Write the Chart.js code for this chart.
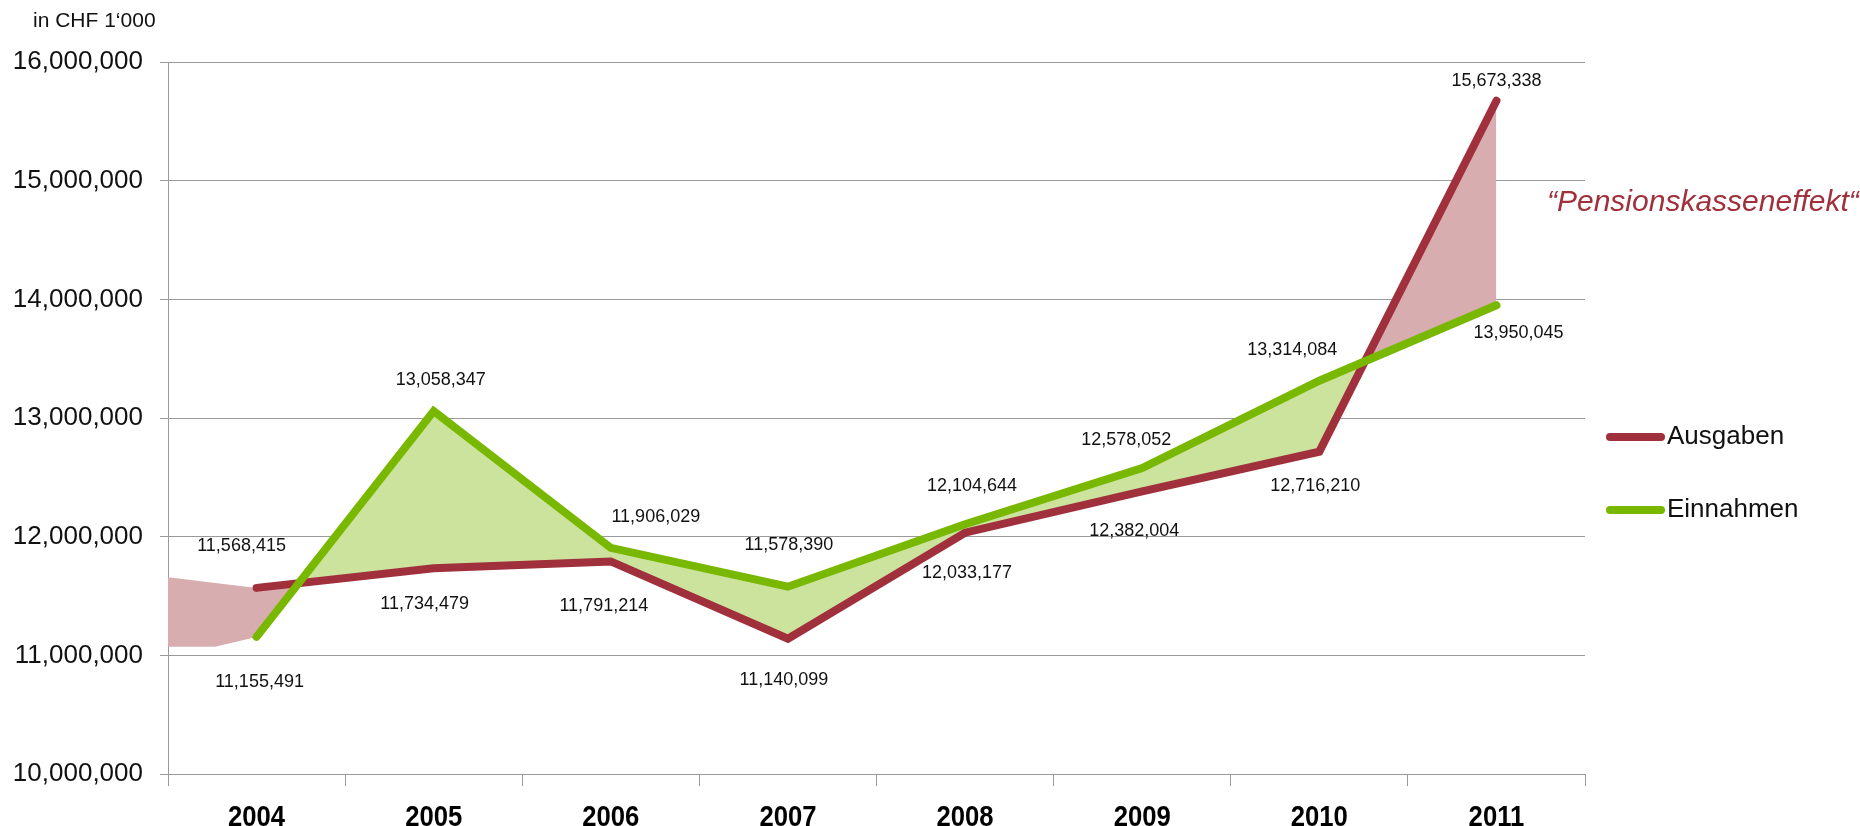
<!DOCTYPE html>
<html>
<head>
<meta charset="utf-8">
<script src="https://cdn.jsdelivr.net/npm/chart.js@4/dist/chart.umd.min.js"></script>
<style>
  html, body { margin: 0; padding: 0; background: #ffffff; }
  canvas { display: block; }
</style>
</head>
<body>
<canvas id="chart" width="1860" height="826"></canvas>
<script>
// Jahre und Werte (in CHF 1'000)
const years = ['2004', '2005', '2006', '2007', '2008', '2009', '2010', '2011'];
const ausgaben  = [11568415, 11734479, 11791214, 11140099, 12033177, 12382004, 12716210, 15673338];
const einnahmen = [11155491, 13058347, 11906029, 11578390, 12104644, 12578052, 13314084, 13950045];

// Schattierte Fläche links vom ersten Jahr (x in Kategorie-Einheiten)
const leftShadeUpperX = [-0.5, 0, 0.01];
const leftShadeUpperY = [11657600, 11568415, 11568415];
const leftShadeLowerX = [-0.5, -0.235, 0, 0.01];
const leftShadeLowerY = [11072700, 11072700, 11155491, 11155491];

// Versatz der Wertbeschriftungen gegenüber dem Punkt [dx, dy] in Pixel
const ausgabenLabelOffsets  = [[-15, -42], [-9, 36], [-7, 45], [-4, 41], [2, 40], [-8, 40], [-4, 34], [0, -20]];
const einnahmenLabelOffsets = [[3, 45], [7, -31], [45, -31], [1, -42], [7, -38], [-16, -28], [-27, -31], [22, 28]];

const RED = '#A0303C';
const GREEN = '#78B800';
const GREEN_FILL = '#CCE39E';
const RED_FILL = '#D8ADB0';
const FONT = '"Liberation Sans", Arial, sans-serif';
const fmt = v => v.toLocaleString('en-US');

const toPoints = (xs, ys) => xs.map((x, i) => ({ x: x, y: ys[i] }));

const overlay = {
  id: 'overlay',
  afterDatasetsDraw(chart) {
    const ctx = chart.ctx;
    ctx.save();
    ctx.font = '18px ' + FONT;
    ctx.fillStyle = '#111111';
    ctx.textAlign = 'center';
    ctx.textBaseline = 'middle';
    [[0, ausgabenLabelOffsets], [1, einnahmenLabelOffsets]].forEach(([di, offs]) => {
      const meta = chart.getDatasetMeta(di);
      const values = chart.data.datasets[di].data;
      meta.data.forEach((pt, j) => {
        ctx.fillText(fmt(values[j]), pt.x + offs[j][0], pt.y + offs[j][1]);
      });
    });
    ctx.restore();
  },
  afterDraw(chart) {
    const ctx = chart.ctx;
    ctx.save();

    // Jahresbeschriftung der x-Achse, schmal gesetzt
    const xScale = chart.scales.x;
    ctx.font = 'bold 30px ' + FONT;
    ctx.fillStyle = '#000000';
    ctx.textAlign = 'center';
    ctx.textBaseline = 'alphabetic';
    chart.data.labels.forEach((lab, i) => {
      ctx.save();
      ctx.translate(xScale.getPixelForTick(i), 826);
      ctx.scale(0.855, 1);
      ctx.fillText(lab, 0, 0);
      ctx.restore();
    });

    // Einheit
    ctx.font = '21px ' + FONT;
    ctx.fillStyle = '#111111';
    ctx.textAlign = 'left';
    ctx.textBaseline = 'middle';
    ctx.fillText('in CHF 1\u2018000', 33, 21);

    // Hinweis
    ctx.font = 'italic 30px ' + FONT;
    ctx.fillStyle = RED;
    ctx.fillText('\u201CPensionskasseneffekt\u201C', 1547, 203);

    // Legende
    const legendRows = [437, 510];
    [0, 1].forEach((di, k) => {
      const ds = chart.data.datasets[di];
      const y = legendRows[k];
      ctx.strokeStyle = ds.borderColor;
      ctx.lineWidth = 8;
      ctx.lineCap = 'round';
      ctx.beginPath();
      ctx.moveTo(1610, y);
      ctx.lineTo(1661, y);
      ctx.stroke();
      ctx.font = '26px ' + FONT;
      ctx.fillStyle = '#111111';
      ctx.fillText(ds.label, 1667, y);
    });
    ctx.restore();
  }
};

new Chart(document.getElementById('chart'), {
  type: 'line',
  data: {
    labels: years,
    datasets: [
      {
        label: 'Ausgaben',
        data: ausgaben,
        borderColor: RED,
        backgroundColor: RED,
        borderWidth: 8,
        borderJoinStyle: 'miter',
        borderCapStyle: 'round',
        pointRadius: 0,
        tension: 0,
        fill: false,
        order: 1
      },
      {
        label: 'Einnahmen',
        data: einnahmen,
        borderColor: GREEN,
        backgroundColor: GREEN,
        borderWidth: 8,
        borderJoinStyle: 'miter',
        borderCapStyle: 'round',
        pointRadius: 0,
        tension: 0,
        fill: { target: 0, above: GREEN_FILL, below: RED_FILL },
        order: 0
      },
      {
        label: 'shadeUpper',
        data: toPoints(leftShadeUpperX, leftShadeUpperY),
        xAxisID: 'x2',
        borderColor: 'rgba(0,0,0,0)',
        borderWidth: 1,
        pointRadius: 0,
        tension: 0,
        fill: { target: 3, above: RED_FILL, below: RED_FILL },
        order: 2
      },
      {
        label: 'shadeLower',
        data: toPoints(leftShadeLowerX, leftShadeLowerY),
        xAxisID: 'x2',
        borderColor: 'rgba(0,0,0,0)',
        borderWidth: 1,
        pointRadius: 0,
        tension: 0,
        fill: false,
        order: 3
      }
    ]
  },
  options: {
    responsive: false,
    animation: false,
    events: [],
    layout: { padding: { top: 62, right: 275, left: 0, bottom: 0 } },
    plugins: {
      legend: { display: false },
      tooltip: { enabled: false },
      filler: { propagate: false, drawTime: 'beforeDatasetsDraw' }
    },
    scales: {
      x: {
        type: 'category',
        offset: true,
        grid: { offset: true, drawOnChartArea: false, drawTicks: true, tickLength: 12, color: '#9a9a9a', lineWidth: 1 },
        border: { display: true, color: '#9a9a9a', width: 1 },
        ticks: { display: false, autoSkip: false, maxRotation: 0 },
        afterFit: s => { s.height = 52; }
      },
      x2: {
        type: 'linear',
        display: false,
        min: -0.5,
        max: 7.5
      },
      y: {
        min: 10000000,
        max: 16000000,
        grid: { color: '#9a9a9a', lineWidth: 1, drawTicks: true, tickLength: 8 },
        border: { display: true, color: '#9a9a9a', width: 1 },
        ticks: {
          stepSize: 1000000,
          padding: 17,
          color: '#111111',
          font: { family: FONT, size: 26 },
          callback: v => fmt(v)
        },
        afterFit: s => { s.width = 168; }
      }
    }
  },
  plugins: [overlay]
});
</script>
</body>
</html>
